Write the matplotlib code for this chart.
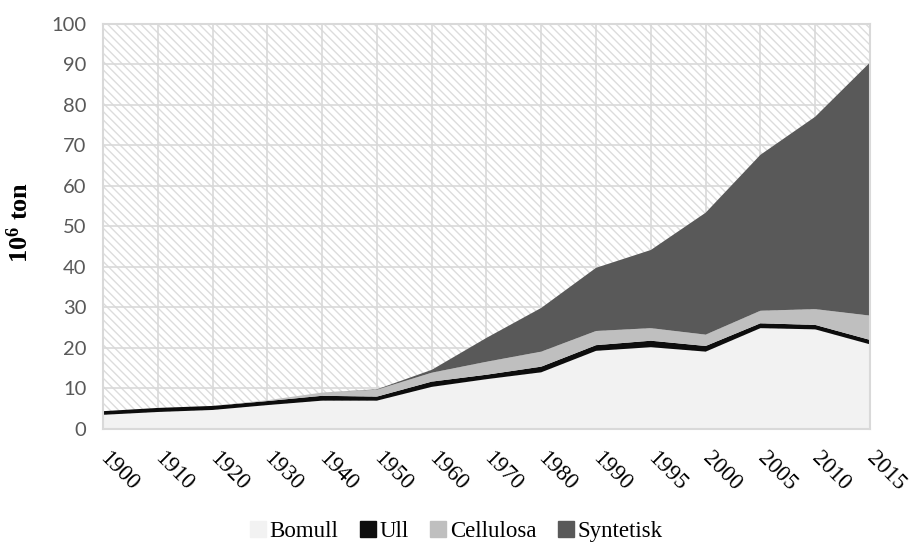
import matplotlib
matplotlib.use('Agg')  # 无显示环境
import matplotlib.pyplot as plt
from matplotlib.patches import Rectangle
from matplotlib.lines import Line2D

# 数据：全球纤维产量 (10^6 ton)
years = ['1900', '1910', '1920', '1930', '1940', '1950', '1960', '1970',
         '1980', '1990', '1995', '2000', '2005', '2010', '2015']
bomull = [3.5, 4.2, 4.7, 5.9, 7.0, 7.0, 10.4, 12.3, 14.0, 19.3, 20.2, 19.1, 24.9, 24.6, 20.9]
ull = [0.9, 1.0, 1.0, 1.0, 1.2, 1.0, 1.3, 1.1, 1.4, 1.4, 1.6, 1.4, 1.2, 1.1, 1.1]
cellulosa = [0.0, 0.0, 0.0, 0.2, 0.8, 1.7, 2.2, 3.2, 3.7, 3.5, 3.1, 2.8, 3.1, 3.9, 6.0]
syntetisk = [0.0, 0.0, 0.0, 0.0, 0.0, 0.1, 0.7, 5.9, 10.8, 15.6, 19.3, 30.1, 38.5, 47.5, 62.5]

labels = ['Bomull', 'Ull', 'Cellulosa', 'Syntetisk']
colors = ['#f2f2f2', '#0d0d0d', '#bfbfbf', '#595959']
grid_color = '#d9d9d9'
serif = ['Liberation Serif', 'DejaVu Serif']

plt.rcParams['hatch.linewidth'] = 1.0
plt.rcParams['mathtext.fontset'] = 'custom'
plt.rcParams['mathtext.rm'] = 'Liberation Serif'
plt.rcParams['mathtext.bf'] = 'Liberation Serif:bold'

fig = plt.figure(figsize=(9.09, 5.44), dpi=100)
ax = fig.add_axes([0.1133, 0.2114, 0.8438, 0.7445])

# 绘图区背景：斜线填充
ax.set_facecolor('white')
ax.add_patch(Rectangle((0, 0), 1, 1, transform=ax.transAxes, facecolor='white',
                       edgecolor='#dcdcdc', hatch='\\\\\\\\', linewidth=0, zorder=0))

x = list(range(len(years)))
ax.stackplot(x, bomull, ull, cellulosa, syntetisk, colors=colors,
             linewidth=0, zorder=3)

# 坐标轴设置
ax.set_xlim(0, len(years) - 1)
ax.set_ylim(0, 100)
ax.set_yticks(range(0, 101, 10))
ax.set_xticks(x)
ax.set_xticklabels(years, rotation=-45, ha='left', va='center', rotation_mode='anchor')
for lbl in ax.get_xticklabels():
    lbl.set_fontfamily(serif)
    lbl.set_fontsize(16.5)
for lbl in ax.get_yticklabels():
    lbl.set_fontfamily('Lato')
    lbl.set_fontsize(14.5)
    lbl.set_color('#595959')
ax.tick_params(axis='both', length=0)
ax.tick_params(axis='x', pad=19)
ax.tick_params(axis='y', pad=12)

ax.grid(True, color=grid_color, linewidth=1.2, zorder=1)
ax.set_axisbelow(True)
for sp in ax.spines.values():
    sp.set_color(grid_color)
    sp.set_linewidth(1.5)
    sp.set_zorder(4)

ax.set_ylabel(r'$\mathbf{10^{6}}$ ton', fontfamily=serif, fontweight='bold',
              fontsize=19)
ax.yaxis.set_label_coords(-0.092, 0.51)

# 图例
handles = [Line2D([], [], marker='s', linestyle='none', markersize=11,
                  markerfacecolor=c, markeredgecolor=c) for c in colors]
fig.legend(handles, labels, loc='lower center', bbox_to_anchor=(0.5, -0.035),
           ncol=4, frameon=False, prop={'family': serif, 'size': 16.5},
           handletextpad=0.0, columnspacing=0.8, handlelength=1.0)

fig.savefig('out.png', dpi=100)
plt.close(fig)
